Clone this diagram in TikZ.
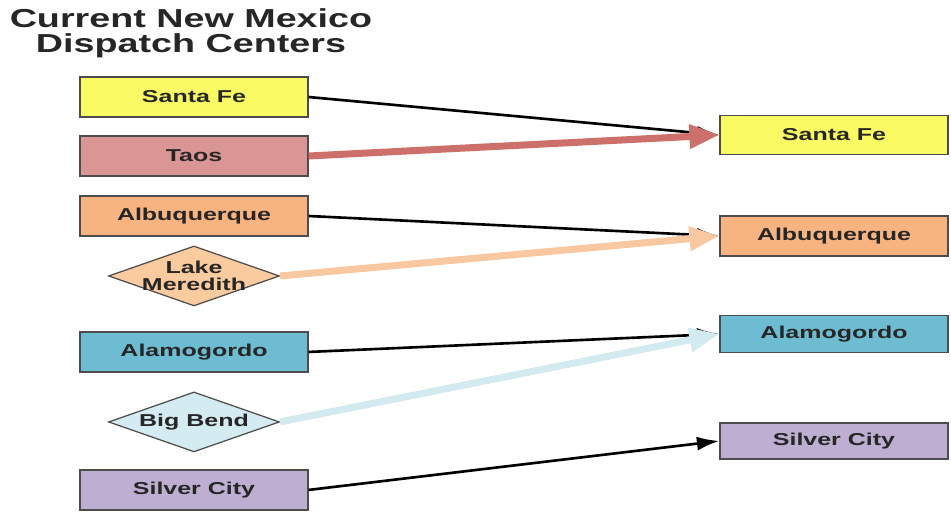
\documentclass[tikz,border=0pt]{standalone}
\usepackage{fontspec}
\setmainfont{Liberation Sans}[FakeStretch=1.45]
\usetikzlibrary{positioning,shapes.geometric,arrows.meta}
\definecolor{fe-yellow}{HTML}{FAFA64}
\definecolor{taos-rose}{HTML}{D99694}
\definecolor{abq-orange}{HTML}{F7B380}
\definecolor{lake-peach}{HTML}{FBCBA0}
\definecolor{alamo-blue}{HTML}{6DBCD1}
\definecolor{bend-blue}{HTML}{D4EBF1}
\definecolor{silver-lilac}{HTML}{BEAED1}
\definecolor{taos-arrow}{HTML}{CD6F6A}
\definecolor{lake-arrow}{HTML}{F9C7A0}
\definecolor{bend-arrow}{HTML}{D2EAF0}

\begin{document}
\begin{tikzpicture}[x=0.02cm, y=-0.02cm, node distance=1.2cm, text=black!85,
    font=\bfseries\fontsize{9.8}{10}\selectfont]
    \tikzstyle{center}=[rectangle, draw=black!70, line width=0.7pt, minimum width=4.56cm, minimum height=0.8cm]
    \tikzstyle{center-ep}=[diamond, draw=black!70, line width=0.7pt, shape aspect=2.9, minimum width=3.42cm, minimum height=1.2cm, inner xsep=-10pt, inner ysep=-4pt, align=center, font=\bfseries\fontsize{9.8}{10}\selectfont]
    \tikzstyle{merge}=[-{Latex[length=0.45cm, width=0.28cm]}, line width=1.5pt]
    \tikzstyle{merge-wide}=[-{Triangle[length=0.6cm, width=0.46cm]}, line width=0.14cm]
    \useasboundingbox (0,0) rectangle (951,512);

    \node (title) [align=center, font=\bfseries\fontsize{14.8}{14.4}\selectfont] at (191,33) {Current New Mexico\\Dispatch Centers};

    % current centers
    \node (old-santa-fe) [center, fill=fe-yellow] at (194,97) {Santa Fe};
    \node (old-taos) [center, fill=taos-rose] [below of=old-santa-fe, node distance=1.18cm] {Taos};
    \node (old-albuquerque) [center, fill=abq-orange] [below of=old-taos] {Albuquerque};
    \node (old-lake-meredith) [center-ep, fill=lake-peach] [below of=old-albuquerque] {Lake\\Meredith};
    \node (old-alamogordo) [center, fill=alamo-blue] [below of=old-lake-meredith, node distance=1.52cm] {Alamogordo};
    \node (old-big-bend) [center-ep, fill=bend-blue] [below of=old-alamogordo, node distance=1.4cm] {Big Bend};
    \node (old-silver-city) [center, fill=silver-lilac] [below of=old-big-bend, node distance=1.36cm] {Silver City};

    % merged centers
    \node (new-santa-fe) [center, fill=fe-yellow, minimum height=0.78cm] at (834,135) {Santa Fe};
    \node (new-albuquerque) [center, fill=abq-orange] [below of=new-santa-fe, node distance=2.02cm] {Albuquerque};
    \node (new-alamogordo) [center, fill=alamo-blue, minimum height=0.74cm] [below of=new-albuquerque, node distance=1.96cm] {Alamogordo};
    \node (new-silver-city) [center, fill=silver-lilac, minimum height=0.72cm] [below of=new-alamogordo, node distance=2.14cm] {Silver City};

    \draw [merge] (old-santa-fe.east) -- (new-santa-fe.west);
    \draw [merge] (old-albuquerque.east) -- (new-albuquerque.west);
    \draw [merge] (old-alamogordo.east) -- (new-alamogordo.west);
    \draw [merge] (old-silver-city.east) -- (new-silver-city.west);

    \draw [merge-wide, draw=taos-arrow, fill=taos-arrow] (old-taos.east) -- (new-santa-fe.west);
    \draw [merge-wide, draw=lake-arrow, fill=lake-arrow] (old-lake-meredith.east) -- (new-albuquerque.west);
    \draw [merge-wide, draw=bend-arrow, fill=bend-arrow] (old-big-bend.east) -- (new-alamogordo.west);
\end{tikzpicture}
\end{document}
